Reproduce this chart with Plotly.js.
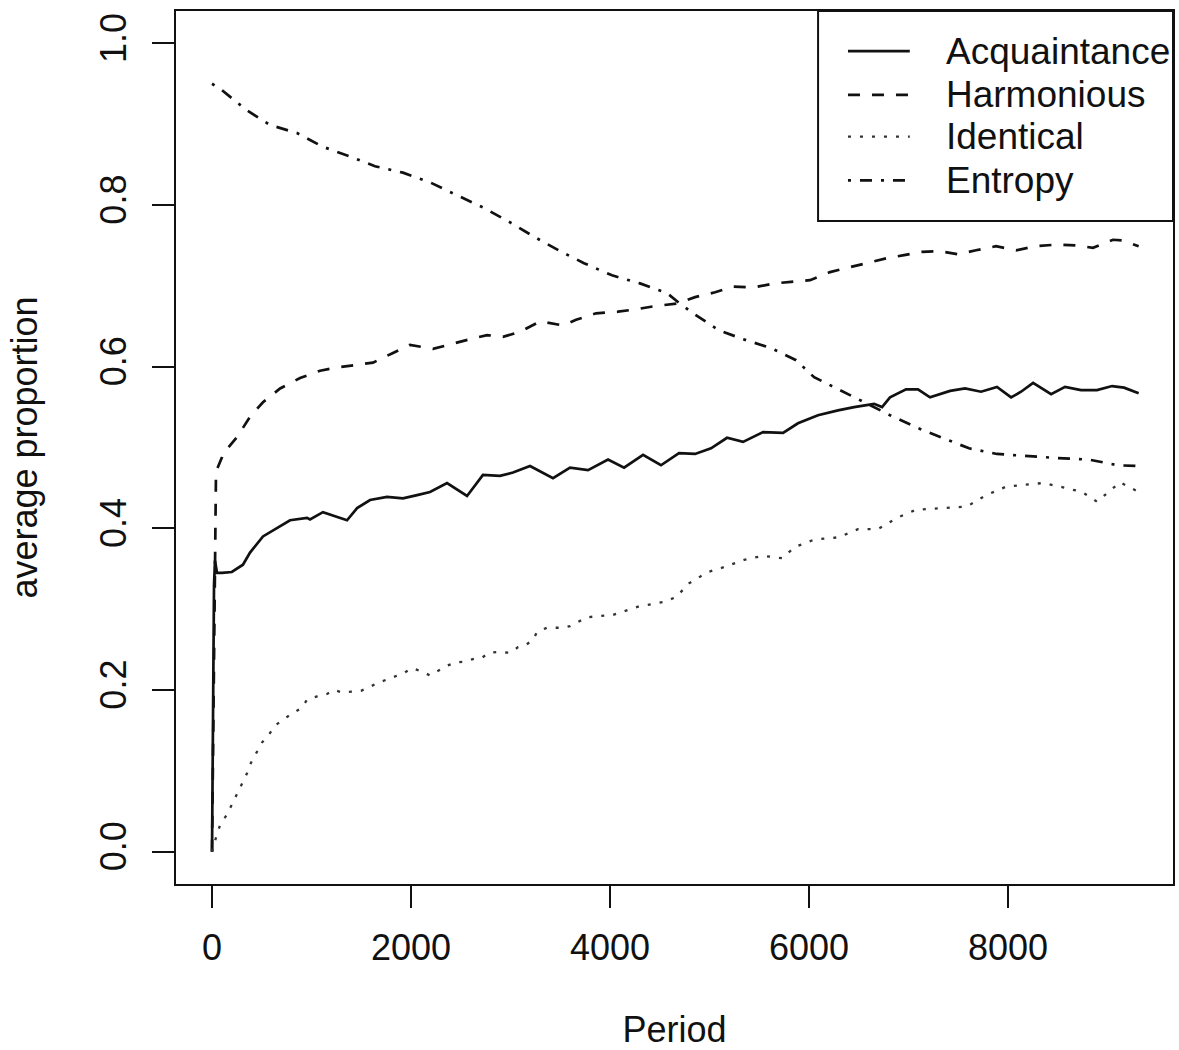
<!DOCTYPE html>
<html>
<head>
<meta charset="utf-8">
<script src="https://cdn.plot.ly/plotly-3.0.1.min.js"></script>
<style>
  html, body { margin: 0; padding: 0; background: #fff; }
  #chart { width: 1179px; height: 1050px; }
</style>
</head>
<body>
<div id="chart"></div>
<script>
// ---- Data ----
const seriesNames = ["Acquaintance", "Harmonious", "Identical", "Entropy"];

const acqPeriod = [0, 20, 30, 50, 100, 199, 311, 382, 512, 654, 784, 955, 985, 1115, 1216, 1357, 1458, 1588, 1759, 1919, 2061, 2191, 2362, 2563, 2723, 2894, 3025, 3196, 3427, 3598, 3779, 3980, 4141, 4332, 4512, 4693, 4855, 5015, 5176, 5337, 5538, 5739, 5889, 6090, 6291, 6453, 6654, 6734, 6814, 6975, 7095, 7216, 7418, 7568, 7729, 7889, 8031, 8131, 8252, 8433, 8573, 8734, 8894, 9046, 9166, 9313];
const acqValue  = [0, 0.33, 0.36, 0.345, 0.345, 0.346, 0.355, 0.37, 0.39, 0.40, 0.41, 0.413, 0.411, 0.42, 0.416, 0.41, 0.425, 0.435, 0.439, 0.437, 0.441, 0.445, 0.456, 0.44, 0.466, 0.465, 0.469, 0.477, 0.462, 0.475, 0.472, 0.485, 0.475, 0.491, 0.478, 0.493, 0.492, 0.499, 0.512, 0.507, 0.519, 0.518, 0.53, 0.54, 0.546, 0.55, 0.554, 0.55, 0.562, 0.572, 0.572, 0.562, 0.57, 0.573, 0.569, 0.575, 0.562, 0.569, 0.58, 0.566, 0.575, 0.571, 0.571, 0.576, 0.574, 0.567];

const harPeriod = [0, 40, 100, 109, 252, 382, 512, 684, 885, 1086, 1257, 1458, 1618, 1819, 1990, 2221, 2422, 2593, 2764, 2924, 3095, 3296, 3527, 3659, 3860, 4080, 4262, 4453, 4674, 4855, 5056, 5237, 5438, 5659, 5819, 6010, 6211, 6412, 6573, 6774, 6955, 7136, 7306, 7497, 7678, 7879, 8081, 8281, 8482, 8683, 8854, 9056, 9156, 9313];
const harValue  = [0, 0.47, 0.488, 0.492, 0.513, 0.538, 0.556, 0.573, 0.586, 0.595, 0.599, 0.602, 0.605, 0.617, 0.627, 0.622, 0.629, 0.634, 0.639, 0.637, 0.643, 0.656, 0.651, 0.658, 0.666, 0.668, 0.671, 0.675, 0.678, 0.686, 0.692, 0.699, 0.698, 0.703, 0.705, 0.707, 0.717, 0.723, 0.728, 0.734, 0.738, 0.742, 0.743, 0.739, 0.744, 0.749, 0.744, 0.749, 0.751, 0.750, 0.747, 0.757, 0.756, 0.749];

const idePeriod = [0, 10, 50, 81, 151, 201, 252, 301, 352, 392, 442, 502, 573, 633, 713, 804, 904, 955, 1056, 1156, 1226, 1306, 1407, 1497, 1588, 1669, 1759, 1860, 1929, 2010, 2110, 2191, 2272, 2362, 2443, 2522, 2613, 2713, 2784, 2865, 2995, 3076, 3146, 3226, 3267, 3367, 3517, 3598, 3769, 4031, 4281, 4543, 4664, 4794, 4985, 5146, 5347, 5538, 5729, 5860, 6051, 6301, 6492, 6693, 6884, 7075, 7327, 7588, 7779, 7970, 8161, 8352, 8543, 8744, 8894, 9026, 9126, 9313];
const ideValue  = [0, 0.006, 0.021, 0.033, 0.046, 0.059, 0.073, 0.085, 0.097, 0.110, 0.122, 0.135, 0.145, 0.156, 0.163, 0.171, 0.178, 0.188, 0.192, 0.195, 0.200, 0.197, 0.198, 0.199, 0.204, 0.209, 0.213, 0.218, 0.221, 0.227, 0.223, 0.218, 0.224, 0.230, 0.234, 0.235, 0.238, 0.240, 0.246, 0.247, 0.246, 0.253, 0.255, 0.262, 0.272, 0.277, 0.277, 0.279, 0.290, 0.293, 0.303, 0.309, 0.315, 0.332, 0.346, 0.352, 0.361, 0.366, 0.363, 0.377, 0.386, 0.389, 0.399, 0.399, 0.413, 0.423, 0.425, 0.427, 0.441, 0.451, 0.454, 0.456, 0.451, 0.445, 0.433, 0.447, 0.457, 0.445];

const entPeriod = [0, 100, 352, 583, 855, 1115, 1387, 1638, 1919, 2191, 2463, 2723, 2975, 3247, 3497, 3739, 4020, 4301, 4573, 4693, 4835, 5095, 5337, 5618, 5870, 6051, 6311, 6453, 6814, 7095, 7337, 7608, 7889, 8212, 8492, 8815, 9106, 9313];
const entValue  = [0.950, 0.942, 0.917, 0.899, 0.889, 0.872, 0.860, 0.848, 0.840, 0.828, 0.812, 0.797, 0.780, 0.760, 0.743, 0.728, 0.713, 0.703, 0.691, 0.679, 0.666, 0.645, 0.634, 0.623, 0.608, 0.587, 0.571, 0.562, 0.540, 0.524, 0.512, 0.499, 0.492, 0.489, 0.487, 0.485, 0.478, 0.477];

const xTicks = [0, 2000, 4000, 6000, 8000];
const yTicks = [0, 0.2, 0.4, 0.6, 0.8, 1.0];
const yTickText = ["0.0", "0.2", "0.4", "0.6", "0.8", "1.0"];

// ---- Styles ----
const FONT = '"Liberation Sans", Arial, "DejaVu Sans", sans-serif';
const INK = '#111';
const lineColors = [INK, INK, '#333', INK];
const dashes = ['solid', '12px,12px', '3px,9px', '3px,9px,12px,9px'];
const widths = [2.7, 2.7, 2.3, 2.7];

const xs = [acqPeriod, harPeriod, idePeriod, entPeriod];
const ys = [acqValue, harValue, ideValue, entValue];

const traces = seriesNames.map((n, i) => ({
  type: 'scatter', mode: 'lines', name: n,
  x: xs[i], y: ys[i],
  line: { color: lineColors[i], width: widths[i], dash: dashes[i] },
  hoverinfo: 'x+y+name'
}));

// ---- Custom legend (R-style box, drawn in paper coordinates) ----
const legRowsY = [0.954, 0.904, 0.856, 0.806];
const shapes = [{
  type: 'rect', xref: 'paper', yref: 'paper',
  x0: 0.644, x1: 1.0, y0: 0.7595, y1: 1.0,
  line: { color: INK, width: 2 }, fillcolor: 'rgba(0,0,0,0)'
}];
const annotations = [];
seriesNames.forEach((n, i) => {
  shapes.push({
    type: 'line', xref: 'paper', yref: 'paper',
    x0: 0.674, x1: 0.736, y0: legRowsY[i], y1: legRowsY[i],
    line: { color: lineColors[i], width: widths[i], dash: dashes[i] }
  });
  annotations.push({
    xref: 'paper', yref: 'paper', x: 0.7703, y: legRowsY[i],
    xanchor: 'left', yanchor: 'middle', showarrow: false,
    text: n, font: { family: FONT, size: 37, color: INK }
  });
});

const layout = {
  width: 1179, height: 1050,
  margin: { l: 176, r: 6, t: 11, b: 166, pad: 0 },
  paper_bgcolor: '#fff', plot_bgcolor: '#fff',
  showlegend: false,
  font: { family: FONT, size: 36, color: INK },
  xaxis: {
    range: [-362, 9658], autorange: false,
    tickvals: xTicks, ticktext: xTicks.map(String),
    ticks: 'outside', ticklen: 22, tickwidth: 2, tickcolor: INK,
    showline: true, mirror: true, linecolor: INK, linewidth: 2,
    showgrid: false, zeroline: false,
    tickfont: { family: FONT, size: 36, color: INK },
    ticklabelstandoff: 9,
    title: { text: 'Period', font: { family: FONT, size: 36, color: INK }, standoff: 55 }
  },
  yaxis: {
    range: [-0.04, 1.04], autorange: false,
    tickvals: yTicks, ticktext: yTickText, tickangle: -90,
    ticks: 'outside', ticklen: 22, tickwidth: 2, tickcolor: INK,
    showline: true, mirror: true, linecolor: INK, linewidth: 2,
    showgrid: false, zeroline: false,
    tickfont: { family: FONT, size: 36, color: INK },
    ticklabelstandoff: 12,
    title: { text: 'average proportion', font: { family: FONT, size: 36, color: INK }, standoff: 44 }
  },
  shapes: shapes,
  annotations: annotations
};

Plotly.newPlot('chart', traces, layout, { displayModeBar: false, staticPlot: true });
</script>
</body>
</html>
